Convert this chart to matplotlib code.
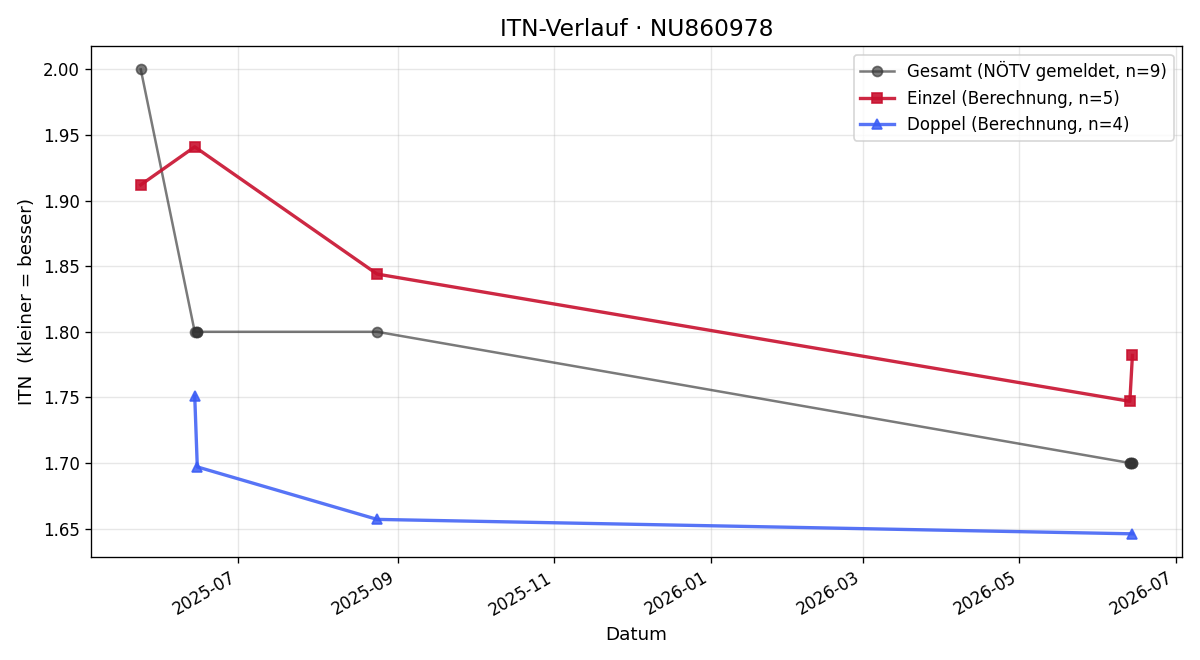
import matplotlib
matplotlib.use("Agg")
import matplotlib.pyplot as plt
import matplotlib.dates as mdates
import pandas as pd

gesamt_dates = ["2025-05-24", "2025-06-14", "2025-06-15", "2025-06-15", "2025-08-24",
                "2026-06-13", "2026-06-13", "2026-06-14", "2026-06-14"]
gesamt_itn = [2.00, 1.80, 1.80, 1.80, 1.80, 1.70, 1.70, 1.70, 1.70]

einzel_dates = ["2025-05-24", "2025-06-14", "2025-08-24", "2026-06-13", "2026-06-14"]
einzel_itn = [1.912, 1.941, 1.844, 1.747, 1.782]

doppel_dates = ["2025-06-14", "2025-06-15", "2025-08-24", "2026-06-14"]
doppel_itn = [1.751, 1.697, 1.657, 1.646]

fig, ax = plt.subplots(figsize=(10, 5.5), dpi=120)

ax.plot(pd.to_datetime(gesamt_dates), gesamt_itn, marker="o", ms=6, lw=1.5,
        color="#333333", alpha=0.65, label=f"Gesamt (NÖTV gemeldet, n={len(gesamt_itn)})")
ax.plot(pd.to_datetime(einzel_dates), einzel_itn, marker="s", ms=6, lw=2,
        color="#c8102e", alpha=0.9, label=f"Einzel (Berechnung, n={len(einzel_itn)})")
ax.plot(pd.to_datetime(doppel_dates), doppel_itn, marker="^", ms=6, lw=2,
        color="#3a5cf5", alpha=0.85, label=f"Doppel (Berechnung, n={len(doppel_itn)})")

ax.set_title("ITN-Verlauf · NU860978", fontsize=14)
ax.set_xlabel("Datum", fontsize=11)
ax.set_ylabel("ITN  (kleiner = besser)", fontsize=11)
ax.grid(True, alpha=0.3)
ax.legend(loc="upper right", fontsize=10)
ax.xaxis.set_major_locator(mdates.MonthLocator(bymonth=[1, 3, 5, 7, 9, 11]))
ax.xaxis.set_major_formatter(mdates.DateFormatter("%Y-%m"))
ax.tick_params(labelsize=10)
fig.autofmt_xdate()
fig.subplots_adjust(left=0.076, right=0.985, top=0.93, bottom=0.156)
fig.savefig("out.png", dpi=120)
